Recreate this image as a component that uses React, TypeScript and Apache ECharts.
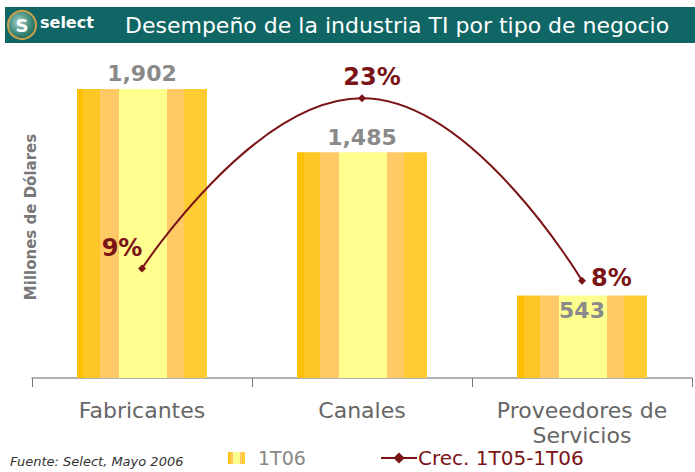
import React, { useEffect, useRef } from "react";
import * as echarts from "echarts";

const categories = ["Fabricantes", "Canales", "Proveedores de\nServicios"];
const salesValues = [1902, 1485, 543];
const growthValues = [9, 23, 8];
const barLabelPositions = ["top", "top", "insideTop"];
const growthLabelPositions = ["top", "top", "right"];
const growthLabelOffsets = [[-20, 0], [10, 0], [0, -3]];
const barSeriesName = "1T06";
const lineSeriesName = "Crec. 1T05-1T06";
const titleText = "Desempeño de la industria TI por tipo de negocio";
const yAxisTitle = "Millones de Dólares";
const sourceText = "Fuente: Select, Mayo 2006";

const FONT = "DejaVu Sans, Verdana, sans-serif";
const DARK_RED = "#7a1416";

const barGradient = new echarts.graphic.LinearGradient(0, 0, 1, 0, [
  { offset: 0, color: "#FFC000" },
  { offset: 0.05, color: "#FFC000" },
  { offset: 0.05, color: "#FFC726" },
  { offset: 0.18, color: "#FFC726" },
  { offset: 0.18, color: "#FFCA66" },
  { offset: 0.32, color: "#FFCA66" },
  { offset: 0.32, color: "#FFFF90" },
  { offset: 0.69, color: "#FFFF90" },
  { offset: 0.69, color: "#FFCA66" },
  { offset: 0.82, color: "#FFCA66" },
  { offset: 0.82, color: "#FFCC33" },
  { offset: 1, color: "#FFCC33" },
]);

export default function App() {
  const ref = useRef<HTMLDivElement>(null);
  useEffect(() => {
    if (!ref.current) return;
    const chart = echarts.init(ref.current, undefined, { renderer: "svg" });
    chart.setOption({
      animation: false,
      backgroundColor: "#ffffff",
      grid: { left: 32, right: 3, top: 74, bottom: 94, containLabel: false },
      legend: [
        {
          data: [barSeriesName],
          left: 228,
          top: 447,
          padding: 0,
          icon: "rect",
          itemWidth: 17,
          itemHeight: 12,
          textStyle: {
            color: "#888",
            fontSize: 19,
            lineHeight: 22,
            fontFamily: FONT,
            padding: [0, 0, 0, 8],
          },
        },
        {
          data: [lineSeriesName],
          left: 380,
          top: 447,
          padding: 0,
          itemWidth: 36,
          itemHeight: 14,
          textStyle: {
            color: DARK_RED,
            fontSize: 20,
            lineHeight: 22,
            fontFamily: FONT,
            padding: [0, 0, 0, -4],
          },
        },
      ],
      xAxis: {
        type: "category",
        data: categories,
        axisLine: { lineStyle: { color: "#999", width: 1.5 } },
        axisTick: { show: true, length: 9, lineStyle: { color: "#777" } },
        axisLabel: {
          color: "#666",
          fontSize: 22,
          fontFamily: FONT,
          margin: 20,
          lineHeight: 25,
          interval: 0,
        },
      },
      yAxis: [
        { type: "value", min: 0, max: 2000, show: false, splitLine: { show: false } },
        { type: "value", min: 0, max: 25, show: false, splitLine: { show: false } },
      ],
      series: [
        {
          name: barSeriesName,
          type: "bar",
          barWidth: 130,
          yAxisIndex: 0,
          itemStyle: { color: barGradient },
          data: salesValues.map((v, i) => ({
            value: v,
            label: { position: barLabelPositions[i] },
          })),
          label: {
            show: true,
            color: "#8a8a8a",
            fontSize: 22,
            fontWeight: "bold",
            fontFamily: FONT,
            distance: 4,
            formatter: (p: any) => p.value.toLocaleString("en-US"),
          },
        },
        {
          name: lineSeriesName,
          type: "line",
          yAxisIndex: 1,
          smooth: 0.5,
          symbol: "diamond",
          symbolSize: 8,
          lineStyle: { color: DARK_RED, width: 2 },
          itemStyle: { color: DARK_RED },
          data: growthValues.map((v, i) => ({
            value: v,
            label: {
              position: growthLabelPositions[i],
              offset: growthLabelOffsets[i],
            },
          })),
          label: {
            show: true,
            color: DARK_RED,
            fontSize: 24,
            fontWeight: "bold",
            fontFamily: FONT,
            distance: 5,
            formatter: (p: any) => `${p.value}%`,
          },
        },
      ],
      graphic: [
        {
          type: "rect",
          shape: { x: 5, y: 7, width: 690, height: 36 },
          style: { fill: "#0F6664" },
          z: 10,
        },
        {
          type: "circle",
          shape: { cx: 22, cy: 25, r: 14 },
          style: {
            fill: new echarts.graphic.RadialGradient(0.4, 0.4, 0.7, [
              { offset: 0, color: "#a8d0c8" },
              { offset: 0.6, color: "#3d8a7a" },
              { offset: 1, color: "#1c5e4e" },
            ]),
            stroke: "#c9a24a",
            lineWidth: 2,
          },
          z: 11,
        },
        {
          type: "text",
          x: 22,
          y: 25,
          style: {
            text: "S",
            fill: "#ffffff",
            font: "bold 18px " + FONT,
            align: "center",
            verticalAlign: "middle",
          },
          z: 12,
        },
        {
          type: "text",
          x: 40,
          y: 22,
          style: {
            text: "select",
            fill: "#ffffff",
            font: "bold 16px " + FONT,
            verticalAlign: "middle",
          },
          z: 12,
        },
        {
          type: "text",
          x: 125,
          y: 25,
          style: {
            text: titleText,
            fill: "#ffffff",
            font: "22px " + FONT,
            verticalAlign: "middle",
          },
          z: 12,
        },
        {
          type: "text",
          x: 31,
          y: 217,
          rotation: Math.PI / 2,
          style: {
            text: yAxisTitle,
            fill: "#777",
            font: "bold 15px " + FONT,
            align: "center",
            verticalAlign: "middle",
          },
        },
        {
          type: "text",
          x: 10,
          y: 461,
          style: {
            text: sourceText,
            fill: "#333",
            font: "italic 13px " + FONT,
            verticalAlign: "middle",
          },
        },
      ],
    });
    return () => chart.dispose();
  }, []);
  return (
    <div
      ref={ref}
      style={{ position: "fixed", left: 0, top: 0, width: 695, height: 472 }}
    />
  );
}
